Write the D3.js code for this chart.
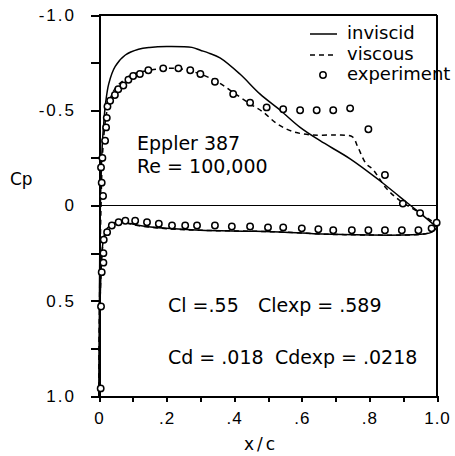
<!DOCTYPE html>
<html lang="en">
<head>
    <meta charset="UTF-8">
    <title>Eppler 387 Cp</title>
    <script src="https://cdn.jsdelivr.net/npm/d3@7/dist/d3.min.js"></script>
    <style>
        body { margin: 0; background: #fff; }
        svg { font-family: "DejaVu Sans", sans-serif; }
        .axis path, .axis line { fill: none; stroke: #000; stroke-width: 2; shape-rendering: crispEdges; }
        .axis text { font-size: 17px; fill: #000; letter-spacing: 1px; }
        .frame { stroke: #000; stroke-width: 2; shape-rendering: crispEdges; }
        .curve { fill: none; stroke: #000; stroke-width: 1.5; }
        .dashed { stroke-dasharray: 5 4; }
        .mark { fill: #fff; stroke: #000; stroke-width: 1.5; }
        .note { font-size: 19px; fill: #000; }
    </style>
</head>
<body>
<svg id="vis" width="455" height="456"></svg>
<script>
    // inviscid Cp, [x/c, Cp]
    let invUpper = [[0, 1.0], [0.001, 0.6], [0.002, 0.3], [0.004, 0.0], [0.007, -0.2], [0.01, -0.33], [0.014, -0.43],
        [0.019, -0.53], [0.029, -0.64], [0.048, -0.73], [0.078, -0.79], [0.117, -0.82], [0.15, -0.83], [0.2, -0.835],
        [0.275, -0.83], [0.3, -0.815], [0.325, -0.8], [0.358, -0.775], [0.417, -0.69], [0.476, -0.586], [0.536, -0.5],
        [0.595, -0.41], [0.654, -0.34], [0.743, -0.245], [0.831, -0.13], [0.891, -0.044], [0.94, 0.026], [1.0, 0.115]];
    let invLower = [[0, 1.0], [0.002, 0.6], [0.005, 0.4], [0.009, 0.24], [0.015, 0.16], [0.024, 0.12], [0.04, 0.095],
        [0.06, 0.085], [0.08, 0.09], [0.12, 0.105], [0.2, 0.12], [0.3, 0.13], [0.45, 0.135], [0.55, 0.14], [0.66, 0.15],
        [0.8, 0.155], [0.9, 0.155], [0.96, 0.15], [0.985, 0.14], [1.0, 0.115]];

    // viscous Cp
    let visUpper = [[0, 1.0], [0.001, 0.6], [0.003, 0.3], [0.006, 0.0], [0.01, -0.25], [0.015, -0.38], [0.022, -0.48],
        [0.033, -0.56], [0.05, -0.62], [0.075, -0.66], [0.1, -0.69], [0.15, -0.71], [0.2, -0.72], [0.25, -0.715],
        [0.3, -0.69], [0.35, -0.65], [0.4, -0.59], [0.45, -0.53], [0.486, -0.49], [0.526, -0.43], [0.57, -0.39],
        [0.63, -0.37], [0.7, -0.37], [0.75, -0.36], [0.765, -0.31], [0.79, -0.22], [0.81, -0.19], [0.85, -0.09],
        [0.89, -0.026], [0.95, 0.04], [1.0, 0.1]];
    let visLower = [[0, 1.0], [0.002, 0.6], [0.005, 0.4], [0.009, 0.25], [0.015, 0.165], [0.024, 0.125], [0.04, 0.1],
        [0.06, 0.088], [0.08, 0.092], [0.12, 0.107], [0.2, 0.122], [0.3, 0.13], [0.45, 0.135], [0.55, 0.14], [0.66, 0.15],
        [0.8, 0.155], [0.9, 0.155], [0.96, 0.15], [0.985, 0.135], [1.0, 0.1]];

    // experiment
    let expUpper = [[0.012, -0.05], [0.008, -0.12], [0.006, -0.2], [0.01, -0.25], [0.018, -0.34], [0.021, -0.41],
        [0.023, -0.46], [0.025, -0.52], [0.033, -0.55], [0.047, -0.58], [0.057, -0.61], [0.072, -0.63], [0.087, -0.66],
        [0.101, -0.68], [0.121, -0.69], [0.146, -0.71], [0.19, -0.72], [0.235, -0.72], [0.27, -0.71], [0.3, -0.69],
        [0.343, -0.65], [0.397, -0.585], [0.447, -0.54], [0.496, -0.515], [0.545, -0.505], [0.595, -0.5], [0.644, -0.5],
        [0.693, -0.5], [0.743, -0.51], [0.797, -0.4], [0.846, -0.16], [0.899, -0.01], [0.95, 0.04], [0.999, 0.09]];
    let expLower = [[0.005, 0.96], [0.006, 0.53], [0.008, 0.35], [0.013, 0.3], [0.013, 0.25], [0.014, 0.18],
        [0.024, 0.14], [0.038, 0.105], [0.058, 0.088], [0.078, 0.08], [0.107, 0.08], [0.142, 0.088], [0.177, 0.096],
        [0.216, 0.105], [0.255, 0.105], [0.29, 0.105], [0.343, 0.105], [0.393, 0.11], [0.447, 0.11], [0.5, 0.115],
        [0.545, 0.115], [0.6, 0.12], [0.649, 0.125], [0.693, 0.13], [0.748, 0.13], [0.797, 0.13], [0.846, 0.13],
        [0.896, 0.13], [0.945, 0.13], [0.984, 0.12]];

    let xTicks = [0, 0.1, 0.2, 0.3, 0.4, 0.5, 0.6, 0.7, 0.8, 0.9, 1.0];
    let xTickLabels = {0: "0", 0.2: ".2", 0.4: ".4", 0.6: ".6", 0.8: ".8", 1: "1.0"};
    let yTicks = [-1, -0.75, -0.5, -0.25, 0, 0.25, 0.5, 0.75, 1];
    let yTickLabels = {"-1": "-1.0", "-0.5": "-0.5", "0": "0", "0.5": "0.5", "1": "1.0"};

    let svg = d3.select("#vis");
    let margin = { top: 15, right: 18, bottom: 60, left: 99 };
    let width = +svg.attr("width");
    let height = +svg.attr("height");

    let x = d3.scaleLinear().domain([0, 1]).range([margin.left, width - margin.right]);
    let y = d3.scaleLinear().domain([-1, 1]).range([margin.top, height - margin.bottom]);

    /* axes */
    svg.append("g")
        .attr("class", "axis")
        .attr("transform", "translate(0," + y(1) + ")")
        .call(d3.axisBottom(x).tickValues(xTicks).tickSize(6).tickSizeOuter(0).tickPadding(10)
            .tickFormat(d => xTickLabels[d] || ""));

    svg.append("g")
        .attr("class", "axis")
        .attr("transform", "translate(" + x(0) + ",0)")
        .call(d3.axisLeft(y).tickValues(yTicks).tickSize(8).tickSizeOuter(0).tickPadding(15)
            .tickFormat(d => yTickLabels[String(d)] || ""))
        .selectAll("text").style("letter-spacing", "2px");

    /* frame + zero line */
    svg.append("line").attr("class", "frame")
        .attr("x1", x(0)).attr("x2", x(1)).attr("y1", y(-1)).attr("y2", y(-1));
    svg.append("line").attr("class", "frame")
        .attr("x1", x(1)).attr("x2", x(1)).attr("y1", y(-1)).attr("y2", y(1));
    svg.append("line").attr("class", "frame").style("stroke-width", 1.5)
        .attr("x1", x(0)).attr("x2", x(1)).attr("y1", y(0)).attr("y2", y(0));

    /* curves */
    let line = d3.line().x(d => x(d[0])).y(d => y(d[1])).curve(d3.curveCatmullRom.alpha(0.5));

    [invUpper, invLower].forEach(function(s) {
        svg.append("path").datum(s).attr("class", "curve").attr("d", line);
    });
    [visUpper, visLower].forEach(function(s) {
        svg.append("path").datum(s).attr("class", "curve dashed").attr("d", line);
    });

    svg.selectAll(".mark")
        .data(expUpper.concat(expLower))
        .join("circle")
        .attr("class", "mark")
        .attr("cx", d => x(d[0]))
        .attr("cy", d => y(d[1]))
        .attr("r", 3.2);

    /* labels */
    svg.append("text").attr("x", 10).attr("y", 185).style("font-size", "17px").text("Cp");
    svg.append("text").attr("x", 261).attr("y", 450).attr("text-anchor", "middle")
        .style("font-size", "17px").style("letter-spacing", "3px").text("x/c");

    svg.append("text").attr("class", "note").attr("x", 137).attr("y", 150).text("Eppler 387");
    svg.append("text").attr("class", "note").attr("x", 137).attr("y", 173).text("Re = 100,000");
    svg.append("text").attr("class", "note").attr("x", 168).attr("y", 312).text("Cl =.55");
    svg.append("text").attr("class", "note").attr("x", 258).attr("y", 312).text("Clexp = .589");
    svg.append("text").attr("class", "note").attr("x", 168).attr("y", 364).text("Cd = .018");
    svg.append("text").attr("class", "note").attr("x", 275).attr("y", 364).text("Cdexp = .0218");

    /* legend */
    let legend = svg.append("g").attr("transform", "translate(310,0)");
    legend.append("line").attr("class", "curve").attr("x1", 0).attr("x2", 27).attr("y1", 34).attr("y2", 34);
    legend.append("line").attr("class", "curve dashed").attr("x1", 0).attr("x2", 27).attr("y1", 55).attr("y2", 55);
    legend.append("circle").attr("class", "mark").attr("cx", 13).attr("cy", 75).attr("r", 3.2);
    legend.append("text").attr("x", 37).attr("y", 39).style("font-size", "18px").text("inviscid");
    legend.append("text").attr("x", 37).attr("y", 60).style("font-size", "18px").text("viscous");
    legend.append("text").attr("x", 37).attr("y", 80).style("font-size", "18px").text("experiment");
</script>
</body>
</html>
